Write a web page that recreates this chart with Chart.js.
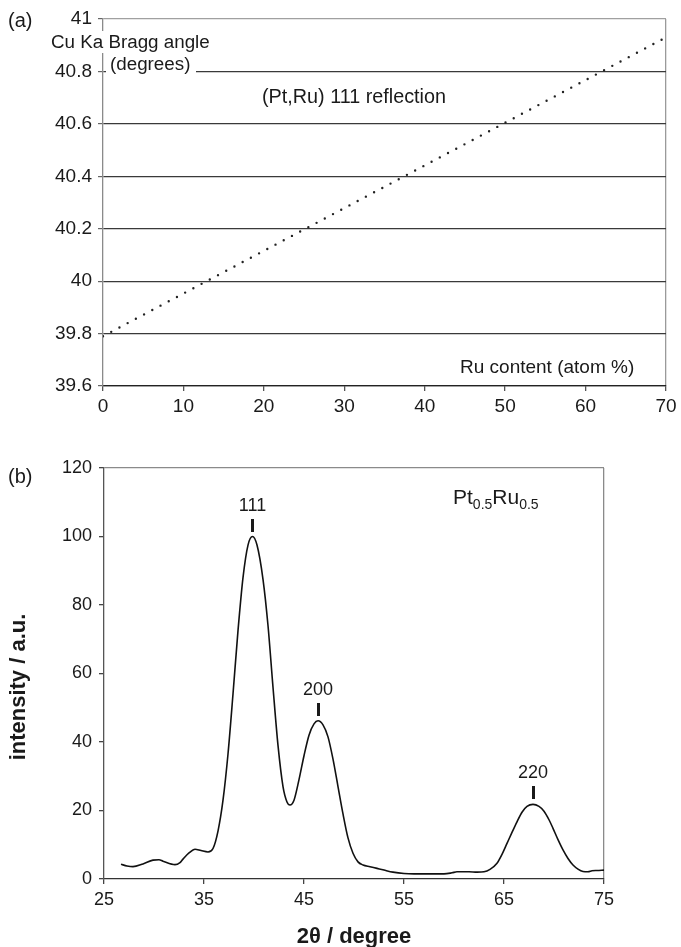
<!DOCTYPE html>
<html><head><meta charset="utf-8">
<script src="https://cdn.jsdelivr.net/npm/chart.js@4.4.1/dist/chart.umd.min.js"></script>
<style>
html,body{margin:0;padding:0;background:#fff;width:681px;height:947px;overflow:hidden;font-family:"Liberation Sans",Arial,sans-serif;color:#1a1a1a}
canvas{position:absolute;left:0}
.t{position:absolute;white-space:nowrap;font-size:18px;line-height:20px}
.sub{font-size:14px;position:relative;top:5px}
.mk{position:absolute;background:#1a1a1a;width:3px}
.yt{position:absolute;white-space:nowrap;font-weight:bold;font-size:22px;line-height:24px;transform:translate(-50%,-50%) rotate(-90deg)}
</style></head><body>
<canvas id="cb" width="681" height="507" style="top:440px"></canvas>
<canvas id="ca" width="681" height="440" style="top:0"></canvas>

<div class="t" style="left:8px;top:9px;font-size:20px;line-height:22px">(a)</div>
<div class="t" style="left:49px;top:31px;height:22px;line-height:22px;background:#fff;padding:0 2px;font-size:18.8px">Cu Ka Bragg angle</div>
<div class="t" style="left:106px;top:55px;height:18px;line-height:18px;background:#fff;padding:0 6px 0 4px;font-size:18.8px">(degrees)</div>
<div class="t" style="left:262px;top:86px;font-size:19.8px">(Pt,Ru) 111 reflection</div>
<div class="t" style="left:460px;top:357px;font-size:19px">Ru content (atom %)</div>

<div class="t" style="left:8px;top:465px;font-size:20px;line-height:22px">(b)</div>
<div class="t" style="left:453px;top:486px;font-size:21px;line-height:22px">Pt<span class="sub">0.5</span>Ru<span class="sub">0.5</span></div>
<div class="yt" style="left:18px;top:687px">intensity / a.u.</div>

<script>
// ---- Panel (a): Vegard line, Cu Ka Bragg angle vs Ru content ----
const ruContent = [0, 70];
const braggAngle = [39.79, 40.93];
const xTicksA = [0, 10, 20, 30, 40, 50, 60, 70];
const yTicksA = [39.6, 39.8, 40, 40.2, 40.4, 40.6, 40.8, 41];

// ---- Panel (b): XRD pattern of Pt0.5Ru0.5 ----
const twoTheta = [26.7,27.3,27.9,28.9,29.9,30.5,30.9,32.1,32.6,32.9,33.5,34.1,34.7,35.4,35.9,36.4,36.9,37.4,37.9,38.4,38.9,39.4,39.85,40.3,40.9,41.4,41.9,42.4,42.9,43.3,43.6,44.0,44.5,45.0,45.5,46.0,46.4,46.9,47.4,47.9,48.4,48.9,49.4,49.9,50.4,50.9,51.6,52.3,53.0,53.9,55.0,56.0,57.0,58.0,59.0,59.8,60.3,61.5,62.3,63.0,63.6,64.3,64.8,65.3,65.8,66.3,66.8,67.3,67.9,68.5,69.0,69.5,69.9,70.4,70.9,71.4,71.9,72.4,72.9,73.4,73.8,74.3,75.0];
const intensity = [4.3,3.8,3.6,4.4,5.5,5.6,5.2,4.2,4.8,5.8,7.6,8.7,8.3,7.9,8.9,14.0,23,36.5,54,72.5,88,97.5,100,97.5,87.5,74,56,39,27,22.5,21.6,23,29,36,42,45.3,46.2,45,41.5,35,27,19,12,7.5,5,4.1,3.6,3.1,2.6,2.0,1.6,1.5,1.5,1.5,1.5,1.8,2.1,2.1,2.0,2.1,2.8,4.6,7.2,10.4,13.6,16.7,19.5,21.2,21.8,21.2,19.8,17.3,14.8,11.5,8.5,6.0,4.1,2.9,2.2,2.1,2.4,2.5,2.6];
const xTicksB = [25, 35, 45, 55, 65, 75];
const yTicksB = [0, 20, 40, 60, 80, 100, 120];
const peakLabels = ['111', '200', '220'];
const peakPos = [39.85, 46.4, 67.9];
const peakInt = [100, 46.2, 21.8];

const FONT = 'Liberation Sans';
const TXT = '#1a1a1a';
const transparent = 'rgba(0,0,0,0)';

new Chart(document.getElementById('ca'), {
  type: 'line',
  data: { datasets: [{
    data: ruContent.map((x, i) => ({ x: x, y: braggAngle[i] })),
    borderColor: '#222', borderWidth: 2.4, borderDash: [0, 9.3], borderCapStyle: 'round',
    pointRadius: 0, fill: false, tension: 0
  }]},
  options: {
    responsive: false, animation: false, events: [],
    plugins: { legend: { display: false }, tooltip: { enabled: false } },
    layout: { padding: { left: 0, top: 19, right: 15, bottom: 0 } },
    scales: {
      x: {
        type: 'linear', min: 0, max: 70,
        afterBuildTicks: s => { s.ticks = xTicksA.map(v => ({ value: v })); },
        afterFit: s => { s.height = 54; },
        grid: { color: c => (c.tick && c.tick.value === 70) ? '#9a9a9a' : transparent, tickColor: '#555', tickLength: 5, lineWidth: 1.3 },
        border: { color: '#222', width: 1.3 },
        ticks: { font: { family: FONT, size: 19 }, color: TXT, padding: 4, maxRotation: 0 }
      },
      y: {
        type: 'linear', min: 39.6, max: 41,
        afterBuildTicks: s => { s.ticks = yTicksA.map(v => ({ value: v })); },
        afterFit: s => { s.width = 103; },
        grid: { color: c => (c.tick && Math.abs(c.tick.value - 41) < 1e-6) ? '#a0a0a0' : '#3a3a3a', tickColor: '#666', tickLength: 5, lineWidth: 1.2 },
        border: { color: '#8a8a8a', width: 1.3 },
        ticks: { font: { family: FONT, size: 19 }, color: TXT, padding: 6, callback: v => String(Math.round(v * 10) / 10) }
      }
    }
  }
});

const chartB = new Chart(document.getElementById('cb'), {
  type: 'line',
  data: { datasets: [{
    data: twoTheta.map((x, i) => ({ x: x, y: intensity[i] })),
    borderColor: '#111', borderWidth: 1.6, pointRadius: 0, fill: false,
    cubicInterpolationMode: 'monotone'
  }]},
  options: {
    responsive: false, animation: false, events: [],
    plugins: { legend: { display: false }, tooltip: { enabled: false } },
    layout: { padding: { left: 0, top: 28, right: 77, bottom: 0 } },
    scales: {
      x: {
        type: 'linear', min: 25, max: 75,
        afterBuildTicks: s => { s.ticks = xTicksB.map(v => ({ value: v })); },
        afterFit: s => { s.height = 68; },
        grid: { color: c => (c.tick && c.tick.value === 75) ? '#8a8a8a' : transparent, tickColor: '#444', tickLength: 5, lineWidth: 1.3 },
        border: { color: '#333', width: 1.3 },
        ticks: { font: { family: FONT, size: 18 }, color: TXT, padding: 5, maxRotation: 0 },
        title: { display: true, text: '2θ / degree', color: TXT, font: { family: FONT, size: 22, weight: 'bold', lineHeight: 1.0 }, padding: { top: 0, bottom: -1 } }
      },
      y: {
        type: 'linear', min: 0, max: 120,
        afterBuildTicks: s => { s.ticks = yTicksB.map(v => ({ value: v })); },
        afterFit: s => { s.width = 104; },
        grid: { color: c => (c.tick && c.tick.value === 120) ? '#8a8a8a' : transparent, tickColor: '#444', tickLength: 5, lineWidth: 1.3 },
        border: { color: '#555', width: 1.3 },
        ticks: { font: { family: FONT, size: 18 }, color: TXT, padding: 7 }
      }
    }
  }
});

// Peak labels and markers placed via the chart's own scales
const sx = chartB.scales.x, sy = chartB.scales.y, offTop = 440;
peakLabels.forEach((lab, i) => {
  const px = sx.getPixelForValue(peakPos[i]);
  const py = sy.getPixelForValue(peakInt[i]) + offTop;
  const d = document.createElement('div');
  d.className = 't';
  d.textContent = lab;
  d.style.left = (px - 30) + 'px';
  d.style.width = '60px';
  d.style.textAlign = 'center';
  d.style.top = (py - 42) + 'px';
  document.body.appendChild(d);
  const m = document.createElement('div');
  m.className = 'mk';
  m.style.left = (px - 1.5) + 'px';
  m.style.top = (py - 18) + 'px';
  m.style.height = '13px';
  document.body.appendChild(m);
});
</script>
</body></html>
